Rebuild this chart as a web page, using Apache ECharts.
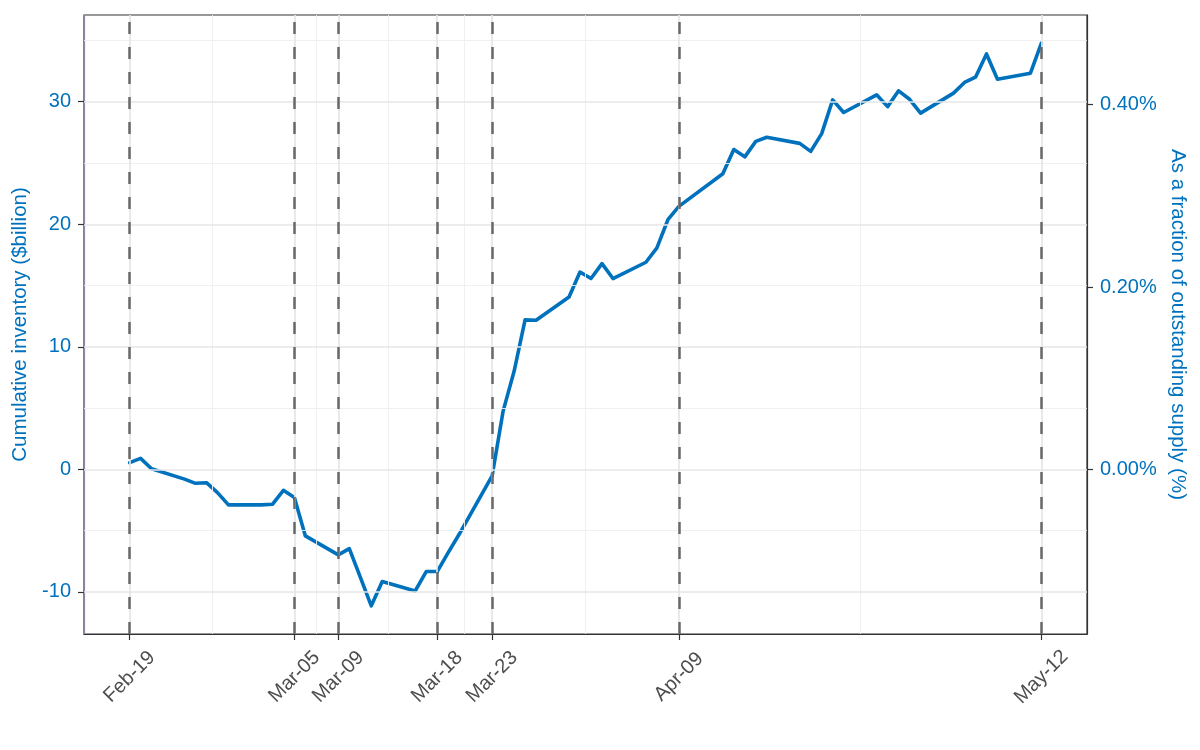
<!DOCTYPE html>
<html>
<head>
<meta charset="utf-8">
<script src="https://cdn.jsdelivr.net/npm/echarts@6/dist/echarts.min.js"></script>
<style>
html,body{margin:0;padding:0;background:#ffffff;}
#chart{width:1200px;height:750px;}
</style>
</head>
<body>
<div id="chart"></div>
<script>
// ---- data ----
const dates = [
  '2020-02-19','2020-02-20','2020-02-21','2020-02-24','2020-02-25','2020-02-26','2020-02-27','2020-02-28',
  '2020-03-02','2020-03-03','2020-03-04','2020-03-05','2020-03-06','2020-03-09','2020-03-10','2020-03-11',
  '2020-03-12','2020-03-13','2020-03-16','2020-03-17','2020-03-18','2020-03-19','2020-03-20','2020-03-23',
  '2020-03-24','2020-03-25','2020-03-26','2020-03-27','2020-03-30','2020-03-31','2020-04-01','2020-04-02',
  '2020-04-03','2020-04-06','2020-04-07','2020-04-08','2020-04-09','2020-04-13','2020-04-14','2020-04-15',
  '2020-04-16','2020-04-17','2020-04-20','2020-04-21','2020-04-22','2020-04-23','2020-04-24','2020-04-27',
  '2020-04-28','2020-04-29','2020-04-30','2020-05-01','2020-05-04','2020-05-05','2020-05-06','2020-05-07',
  '2020-05-08','2020-05-11','2020-05-12'
];
const inventory = [
  0.55, 0.9, 0.05, -0.8, -1.14, -1.09, -1.9, -2.9,
  -2.9, -2.85, -1.71, -2.3, -5.43, -6.98, -6.47, -8.8,
  -11.14, -9.16, -9.92, -8.34, -8.34, -6.8, -5.3, -0.54,
  4.75, 8.0, 12.2, 12.17, 14.07, 16.1, 15.57, 16.79,
  15.57, 16.9, 18.07, 20.37, 21.46, 24.12, 26.1, 25.5,
  26.76, 27.1, 26.6, 25.95, 27.4, 30.15, 29.12, 30.56,
  29.6, 30.89, 30.2, 29.07, 30.7, 31.57, 32.0, 33.9,
  31.84, 32.33, 34.78
];
const eventDates = ['2020-02-19','2020-03-05','2020-03-09','2020-03-18','2020-03-23','2020-04-09','2020-05-12'];
const leftTicks = [-10, 0, 10, 20, 30];
const leftMinorGrid = [-5, 5, 15, 25, 35];
const rightTicks = [0, 0.2, 0.4];      // percent
const outstandingSupply = 7440;        // $billion
const monthNames = ['Jan','Feb','Mar','Apr','May','Jun','Jul','Aug','Sep','Oct','Nov','Dec'];

// ---- helpers ----
function ts(s){ const p = s.split('-').map(Number); return Date.UTC(p[0], p[1]-1, p[2]); }
function fmtDate(v){ const d = new Date(v); const dd = d.getUTCDate(); return monthNames[d.getUTCMonth()] + '-' + (dd < 10 ? '0' + dd : dd); }

const xs = dates.map(ts);
const eventTs = eventDates.map(ts);
const xSpan = xs[xs.length-1] - xs[0];
const xMin = xs[0] - 0.05 * xSpan;
const xMax = xs[xs.length-1] + 0.05 * xSpan;
const vMin = Math.min.apply(null, inventory), vMax = Math.max.apply(null, inventory);
const yMin = vMin - 0.05 * (vMax - vMin);
const yMax = vMax + 0.05 * (vMax - vMin);
const xMinorGrid = [];
for (let i = 0; i < eventTs.length - 1; i++) xMinorGrid.push((eventTs[i] + eventTs[i+1]) / 2);

const blue = '#0072BD';
const font = 'Liberation Sans, Arial, sans-serif';

const chart = echarts.init(document.getElementById('chart'), null, {renderer: 'canvas'});

const gridLines = [];
leftMinorGrid.forEach(v => gridLines.push({yAxis: v, lineStyle: {color: '#eeeeee', width: 0.9, type: 'solid'}}));
xMinorGrid.forEach(v => gridLines.push({xAxis: v, lineStyle: {color: '#eeeeee', width: 0.9, type: 'solid'}}));
leftTicks.forEach(v => gridLines.push({yAxis: v, lineStyle: {color: '#e6e6e6', width: 1.7, type: 'solid'}}));
eventTs.forEach(v => gridLines.push({xAxis: v, lineStyle: {color: '#e6e6e6', width: 1.7, type: 'solid'}}));

chart.setOption({
  animation: false,
  backgroundColor: '#ffffff',
  grid: {left: 84, right: 113, top: 15, bottom: 116, show: true, borderColor: '#333333', borderWidth: 1.2, backgroundColor: 'transparent'},
  xAxis: {
    type: 'value', min: xMin, max: xMax, scale: true,
    axisLine: {show: true, onZero: false, lineStyle: {color: '#333333', width: 1.2}},
    axisTick: {show: true, customValues: eventTs, length: 6, lineStyle: {color: '#333333', width: 1.2}},
    axisLabel: {
      customValues: eventTs, formatter: v => fmtDate(v), rotate: 45,
      align: 'center', verticalAlign: 'middle', margin: 43,
      fontSize: 20, color: '#4d4d4d', fontFamily: font
    },
    splitLine: {show: false}, minorTick: {show: false}
  },
  yAxis: [
    {
      type: 'value', min: yMin, max: yMax, position: 'left',
      axisLine: {show: true, onZero: false, lineStyle: {color: '#9385a8', width: 1.2}},
      axisTick: {show: true, customValues: leftTicks, length: 6, lineStyle: {color: '#333333', width: 1.2}},
      axisLabel: {customValues: leftTicks, formatter: v => String(v), margin: 13, fontSize: 20, color: blue, fontFamily: font},
      splitLine: {show: false},
      name: 'Cumulative inventory ($billion)', nameLocation: 'middle', nameGap: 49,
      nameTextStyle: {fontSize: 20.5, color: blue, fontFamily: font}
    },
    {
      type: 'value', min: yMin / outstandingSupply * 100, max: yMax / outstandingSupply * 100, position: 'right',
      axisLine: {show: true, onZero: false, lineStyle: {color: '#333333', width: 1.2}},
      axisTick: {show: true, customValues: rightTicks, length: 6, lineStyle: {color: '#333333', width: 1.2}},
      axisLabel: {customValues: rightTicks, formatter: v => v.toFixed(2) + '%', margin: 13, fontSize: 20, color: blue, fontFamily: font},
      splitLine: {show: false},
      name: 'As a fraction of outstanding supply (%)', nameLocation: 'middle', nameGap: 71, nameRotate: -90,
      nameTextStyle: {fontSize: 20.5, color: blue, fontFamily: font}
    }
  ],
  series: [
    {
      type: 'line', data: [], silent: true, z: 1,
      markLine: {silent: true, symbol: ['none','none'], label: {show: false}, animation: false, data: gridLines}
    },
    {
      type: 'line', data: [], silent: true, z: 2,
      markLine: {
        silent: true, symbol: ['none','none'], label: {show: false}, animation: false,
        lineStyle: {color: '#686868', width: 2.5, type: [12, 13]},
        data: eventTs.map(v => ({xAxis: v}))
      }
    },
    {
      type: 'line', z: 3, yAxisIndex: 0,
      data: xs.map((x, i) => [x, inventory[i]]),
      showSymbol: false, symbol: 'none',
      lineStyle: {color: blue, width: 3.6, join: 'round', cap: 'round'}
    }
  ]
});
</script>
</body>
</html>
